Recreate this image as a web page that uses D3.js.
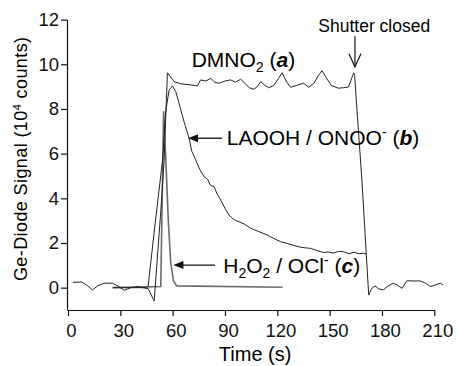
<!DOCTYPE html>
<html>
<head>
<meta charset="utf-8">
<script src="https://cdn.jsdelivr.net/npm/d3@7"></script>
<style>
  body { margin: 0; background: #fff; }
  svg { display: block; font-family: "Liberation Sans", Arial, Helvetica, sans-serif; }
  .tick text { font-size: 18.5px; fill: #111; }
</style>
</head>
<body>
<svg id="chart" width="457" height="366"></svg>
<script>
// --- Data (time in s, signal in 10^4 counts)
const dmnoT = [2.7, 8, 11, 14, 17, 20.8, 25.6, 29, 32.2, 36, 40, 46, 49.4, 53, 55.1, 57, 60.8, 65, 70, 74.2, 76, 79, 81.8, 84, 86.6, 90, 93.2, 96, 99, 102, 104, 106.5, 108.5, 110.5, 113, 115, 118, 120.5, 122.8, 125, 127.6, 131, 135, 138, 141, 143.5, 145.7, 148, 151, 155, 158, 160.8, 163.8, 164.3, 168.5, 172.4, 174, 176, 178, 180.8, 183, 186.5, 189, 191.5, 194.3, 198, 202, 205, 207.7, 210, 213.4, 214.9];
const dmnoV = [0.24, 0.25, 0.1, -0.1, 0.08, 0.2, 0.2, 0.05, -0.12, 0, 0.05, -0.05, -0.6, 3.2, 5.7, 9.62, 9.22, 9.12, 9.08, 9.03, 9.3, 9.25, 9.37, 9.2, 9.15, 9.25, 9.3, 9.2, 9.33, 9.1, 8.95, 8.88, 9.0, 9.22, 9.05, 8.95, 9.05, 9.35, 9.62, 9.25, 8.97, 9.05, 9.15, 8.97, 9.15, 9.5, 9.71, 9.4, 9.05, 8.93, 8.95, 8.98, 9.62, 9.5, 4.8, -0.33, -0.05, 0.08, -0.05, -0.1, 0.05, 0.2, 0.1, -0.03, 0.31, 0.3, 0.3, 0.2, 0.05, 0.1, 0.2, 0.13];

const laoohT = [25.6, 44.6, 45.9, 50, 54.2, 56, 58, 59.9, 61.8, 63.7, 64.7, 67, 69.4, 71, 73.2, 75.5, 78, 80, 81.5, 83.7, 85.5, 87.5, 90, 92.3, 95, 98, 101, 104.7, 109, 114.2, 118, 121.9, 126, 130.4, 134, 139, 142, 146.6, 149, 152, 155, 158, 161, 164, 167, 169.5, 171];
const laoohV = [0, 0, 0.05, 2.9, 5.7, 7.9, 8.85, 9.03, 8.77, 8.25, 7.95, 7.3, 6.69, 6.1, 5.72, 5.3, 4.97, 4.85, 4.6, 4.52, 4.2, 3.93, 3.55, 3.25, 3.05, 2.95, 2.85, 2.66, 2.52, 2.36, 2.2, 2.06, 1.97, 1.87, 1.8, 1.76, 1.68, 1.57, 1.6, 1.55, 1.62, 1.61, 1.52, 1.58, 1.52, 1.54, 1.5];

const hoclT = [25.6, 53.2, 54.8, 56.1, 57.5, 58.9, 60.5, 62.3, 123];
const hoclV = [0, 0.05, 7.9, 5.7, 3.0, 1.1, 0.3, 0.08, 0.02];

const xTicks = [0, 30, 60, 90, 120, 150, 180, 210];
const yTicks = [0, 2, 4, 6, 8, 10, 12];

const svg = d3.select("#chart");

// --- Scales
const x = d3.scaleLinear().domain([0, 210]).range([68, 434.3]);
const y = d3.scaleLinear().domain([-1, 12]).range([310, 19.6]);

// --- Axes
const xAxis = svg.append("g")
  .attr("transform", `translate(0,${y(-1)})`)
  .call(d3.axisBottom(x).tickValues(xTicks).tickSize(6).tickSizeOuter(0).tickPadding(8));
xAxis.selectAll(".tick text").attr("dx", 3);

const yAxis = svg.append("g")
  .attr("transform", `translate(${x(0) - 1},0)`)
  .call(d3.axisLeft(y).tickValues(yTicks).tickSize(6).tickSizeOuter(0).tickPadding(2));

svg.selectAll(".domain, .tick line").attr("stroke", "#111").attr("stroke-width", 1.2);

// --- Axis titles
svg.append("text")
  .attr("x", (x(0) + x(210)) / 2 + 4)
  .attr("y", 361)
  .attr("text-anchor", "middle")
  .style("font-size", "20px")
  .text("Time (s)");

const yTitle = svg.append("text")
  .attr("transform", `translate(27,${(y(12) + y(-1)) / 2 - 6}) rotate(-90)`)
  .attr("text-anchor", "middle")
  .style("font-size", "18px")
  .style("letter-spacing", "0.4px");
yTitle.append("tspan").text("Ge-Diode Signal (10");
yTitle.append("tspan").attr("dy", -6).style("font-size", "11px").text("4");
yTitle.append("tspan").attr("dy", 6).text(" counts)");

// --- Lines
const line = d3.line().x(d => x(d[0])).y(d => y(d[1]));
const zip = (t, v) => t.map((d, i) => [d, v[i]]);

svg.append("path")
  .datum(zip(hoclT, hoclV))
  .attr("fill", "none")
  .attr("stroke", "#6b6b6b")
  .attr("stroke-width", 1.6)
  .attr("d", line);

svg.append("path")
  .datum(zip(dmnoT, dmnoV))
  .attr("fill", "none")
  .attr("stroke", "#222")
  .attr("stroke-width", 1)
  .attr("d", line);

svg.append("path")
  .datum(zip(laoohT, laoohV))
  .attr("fill", "none")
  .attr("stroke", "#222")
  .attr("stroke-width", 1)
  .attr("d", line);

// --- Annotations
function label(tx, ty, parts) {
  const t = svg.append("text").attr("x", x(tx)).attr("y", y(ty)).style("font-size", "21px");
  parts.forEach(p => {
    const s = t.append("tspan").text(p.text);
    if (p.sub) s.attr("dy", 5).style("font-size", "14px");
    if (p.sup) s.attr("dy", -8).style("font-size", "14px");
    if (p.back) s.attr("dy", p.back);
    if (p.em) s.style("font-weight", "bold").style("font-style", "italic");
  });
  return t;
}

label(70.9, 9.89, [
  { text: "DMNO" }, { text: "2", sub: true }, { text: " (", back: -5 }, { text: "a", em: true }, { text: ")" }
]);

label(91, 6.39, [
  { text: "LAOOH / ONOO" }, { text: "-", sup: true }, { text: " (", back: 8 }, { text: "b", em: true }, { text: ")" }
]);

label(89, 0.66, [
  { text: "H" }, { text: "2", sub: true }, { text: "O", back: -5 }, { text: "2", sub: true },
  { text: " / OCl", back: -5 }, { text: "-", sup: true }, { text: " (", back: 8 }, { text: "c", em: true }, { text: ")" }
]);

svg.append("text")
  .attr("x", x(143.5))
  .attr("y", y(11.45))
  .style("font-size", "17.5px")
  .text("Shutter closed");

// shutter arrow (open head)
const sx = x(164.5);
svg.append("line").attr("x1", sx).attr("x2", sx).attr("y1", y(11.25)).attr("y2", y(9.89))
  .attr("stroke", "#111").attr("stroke-width", 1.2);
svg.append("path")
  .attr("d", `M${sx - 6},${y(9.89) - 13}L${sx},${y(9.89)}L${sx + 6},${y(9.89) - 13}`)
  .attr("fill", "none").attr("stroke", "#111").attr("stroke-width", 1.2);

// left-pointing arrows to curves b and c
function leftArrow(t0, t1, v) {
  const x0 = x(t0), x1 = x(t1), yy = y(v);
  svg.append("line").attr("x1", x0 + 8).attr("x2", x1).attr("y1", yy).attr("y2", yy)
    .attr("stroke", "#111").attr("stroke-width", 1.3);
  svg.append("path")
    .attr("d", `M${x0},${yy}L${x0 + 10},${yy - 4}L${x0 + 10},${yy + 4}Z`)
    .attr("fill", "#111");
}
leftArrow(68.8, 88.3, 6.69);
leftArrow(60.4, 84.3, 1.01);
</script>
</body>
</html>
